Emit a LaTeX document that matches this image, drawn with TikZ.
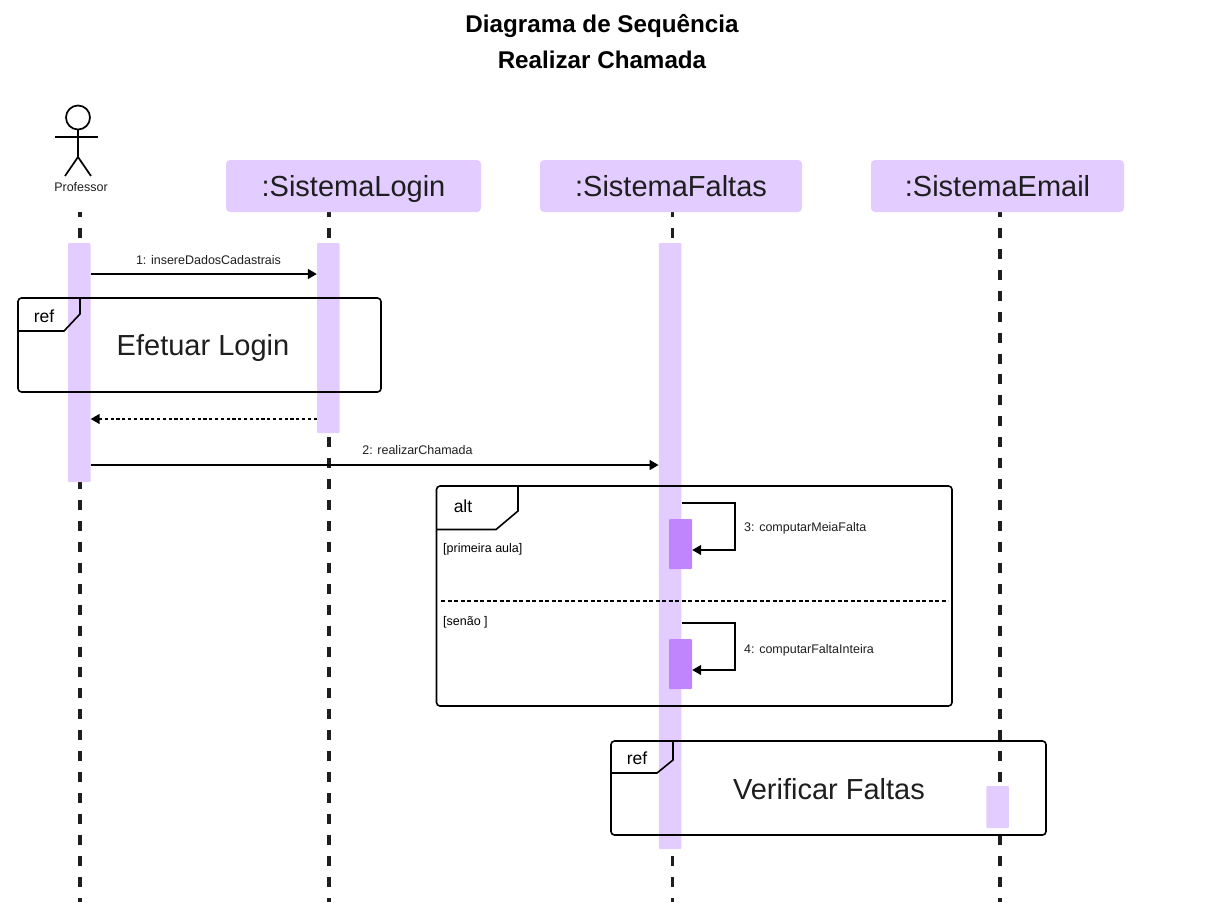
\documentclass[tikz,border=0pt]{standalone}
\usepackage{fontspec}
\setmainfont{Liberation Sans}
\usetikzlibrary{arrows.meta}
\definecolor{lilac}{HTML}{E3CCFF}
\definecolor{violet}{HTML}{C084FC}
\definecolor{ink}{HTML}{1E1E1E}
\newcommand{\fsz}[1]{\fontsize{#1}{#1}\selectfont}
\tikzset{
  >={Triangle[length=9pt,width=10pt]},
  bar/.style={fill=lilac, rounded corners=1pt, inner sep=0pt, minimum width=22.5pt},
  selfbar/.style={fill=violet, rounded corners=1pt, inner sep=0pt, minimum width=23pt, minimum height=50pt},
  header/.style={inner sep=0pt, text height=24pt, text depth=4pt, fill=lilac, rounded corners=4pt, minimum height=52pt, text=ink, font=\fsz{29}},
  lifeline/.style={ink, line width=3.3pt, dash pattern=on 10pt off 10.93pt},
  frame/.style={draw=black, line width=1.6pt, rounded corners=3.5pt, inner sep=0pt},
  tag/.style={black, line width=1.6pt},
  msg/.style={->, black, line width=1.5pt},
  small/.style={inner sep=0pt, text height=10.5pt, text depth=1.5pt, text=ink, font=\fsz{12.5}},
  tagtext/.style={inner sep=0pt, text height=15pt, text depth=2.4pt, text=black, font=\fsz{17.5}},
  big/.style={inner sep=0pt, text height=25pt, text depth=4pt, text=ink, font=\fsz{29}},
  title/.style={inner sep=0pt, text height=20pt, text depth=4pt, text=black, font=\fsz{24.2}\bfseries}
}
\begin{document}
\begin{tikzpicture}[x=1pt,y=-1pt]
\useasboundingbox (0,0) rectangle (1206,908);
 \node[title] (title1) at (602,24) {Diagrama de Sequência};
 \node[title] (title2) at (602,60) {Realizar Chamada};
 % actor
 \node[draw=black, circle, line width=1.7pt, minimum size=24pt, inner sep=0pt] (head) at (78,117.5) {};
 \coordinate (hip) at (78,157);
 \coordinate (armL) at (55,137);
 \coordinate (armR) at (98,137);
 \coordinate (footL) at (65,176);
 \coordinate (footR) at (91,176);
\draw[line width=1.7pt] (head.south)--(hip);
\draw[line width=1.7pt] (armL)--(armR);
\draw[line width=1.7pt] (footL)--(hip)--(footR);
 \node[small] (prof) at (81,186.5) {Professor};
 % lifelines
 \coordinate (p0) at (80,212);
 \coordinate (p1) at (80,902);
 \coordinate (l0) at (329,212);
 \coordinate (l1) at (329,902);
 \coordinate (f0) at (672.5,212);
 \coordinate (f1) at (672.5,902);
 \coordinate (e0) at (1000,212);
 \coordinate (e1) at (1000,902);
\draw[lifeline, dash phase=5pt] (p0)--(p1);
\draw[lifeline, dash phase=5pt] (l0)--(l1);
\draw[lifeline, dash phase=5pt] (f0)--(f1);
\draw[lifeline, dash phase=5pt] (e0)--(e1);
 \node[header, minimum width=255pt] (login) at (353.5,186) {:SistemaLogin};
 \node[header, minimum width=262pt] (faltas) at (671,186) {:SistemaFaltas};
 \node[header, minimum width=253pt] (email) at (997.5,186) {:SistemaEmail};
 % activations
 \node[bar, minimum height=239pt] (barP) at (79.25,362.5) {};
 \node[bar, minimum height=190pt] (barL) at (328.25,338) {};
 \node[bar, minimum height=606pt] (barF) at (670,546) {};
 \node[bar, minimum height=42pt] (barE) at (997.5,807) {};
 \node[selfbar] (self3) at (680.5,544) {};
 \node[selfbar] (self4) at (680.5,664) {};
 % messages
 \coordinate (m1) at (0,274);
 \coordinate (m2) at (0,419);
 \coordinate (m3) at (0,465);
 \coordinate (s3a) at (682,503);
 \coordinate (s3b) at (735,503);
 \coordinate (s3c) at (735,550);
 \coordinate (s4a) at (682,623);
 \coordinate (s4b) at (735,623);
 \coordinate (s4c) at (735,670);
\draw[msg] (barP.east |- m1)--(barL.west |- m1);
\draw[msg, dash pattern=on 3.2pt off 2.6pt] (barL.west |- m2)--(barP.east |- m2);
\draw[msg] (barP.east |- m3)--(barF.west |- m3);
\draw[msg] (s3a)--(s3b)--(s3c)--(self3.east |- s3c);
\draw[msg] (s4a)--(s4b)--(s4c)--(self4.east |- s4c);
 \node[small] (lab1) at (208.5,259.5) {1: insereDadosCadastrais};
 \node[small] (lab2) at (417.5,450) {2: realizarChamada};
 \node[small, anchor=west] (lab3) at (744,526.5) {3: computarMeiaFalta};
 \node[small, anchor=west] (lab4) at (744,648.5) {4: computarFaltaInteira};
 % ref Efetuar Login
 \node[frame, minimum width=363pt, minimum height=94pt] (refL) at (199.5,345) {};
 \coordinate (a1) at (18,331);
 \coordinate (a2) at (64,331);
 \coordinate (a3) at (80,314);
 \coordinate (a4) at (80,298);
\draw[tag] (a1)--(a2)--(a3)--(a4);
 \node[tagtext] (refL1) at (44,316) {ref};
 \node[big] (refL2) at (203,345) {Efetuar Login};
 % alt
 \node[frame, minimum width=515.5pt, minimum height=220pt] (alt) at (694.25,596) {};
 \coordinate (b1) at (436.5,529.5);
 \coordinate (b2) at (496,529.5);
 \coordinate (b3) at (518,511);
 \coordinate (b4) at (518,486);
\draw[tag] (b1)--(b2)--(b3)--(b4);
 \coordinate (d1) at (441,601);
 \coordinate (d2) at (948,601);
\draw[black, line width=1.3pt, dash pattern=on 4pt off 2.5pt] (d1)--(d2);
 \node[tagtext] (altT) at (463,506) {alt};
 \node[small, anchor=west, text=black] (g1) at (443,547.5) {[primeira aula]};
 \node[small, anchor=west, text=black] (g2) at (443,620.5) {[senão ]};
 % ref Verificar Faltas
 \node[frame, minimum width=435pt, minimum height=94pt] (refV) at (828.5,788) {};
 \coordinate (c1) at (611,773);
 \coordinate (c2) at (657,773);
 \coordinate (c3) at (673,760);
 \coordinate (c4) at (673,741);
\draw[tag] (c1)--(c2)--(c3)--(c4);
 \node[tagtext] (refV1) at (637,758) {ref};
 \node[big] (refV2) at (829,789) {Verificar Faltas};
 \end{tikzpicture}
\end{document}
